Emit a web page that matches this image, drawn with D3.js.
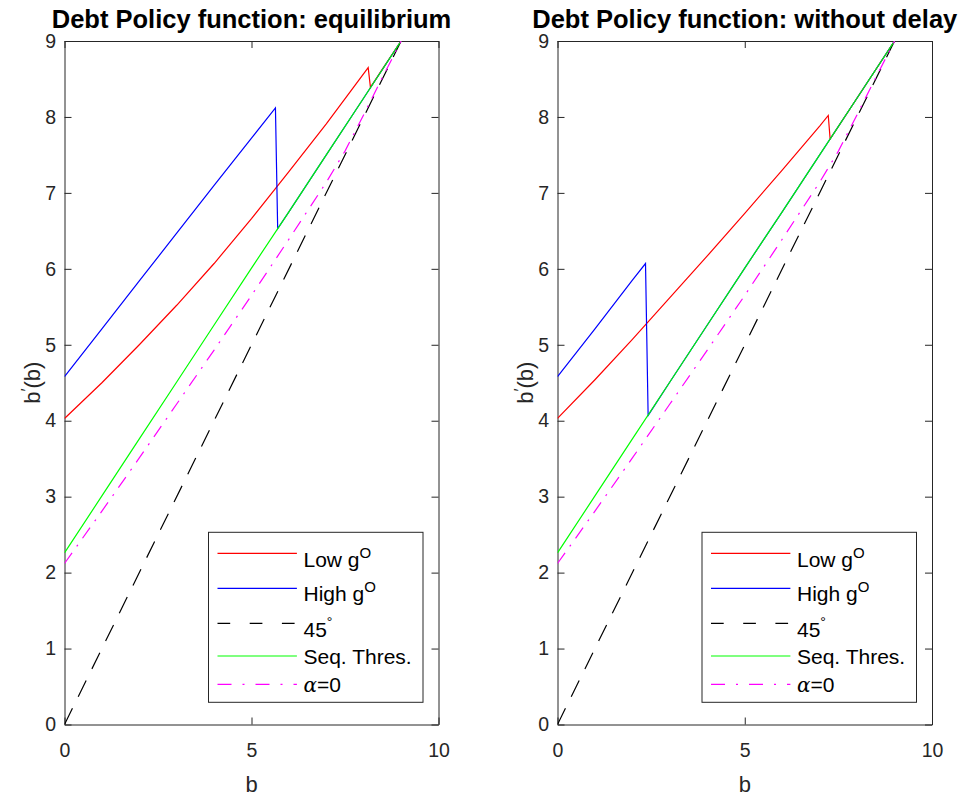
<!DOCTYPE html>
<html>
<head>
<meta charset="utf-8">
<script src="https://cdn.jsdelivr.net/npm/d3@7"></script>
<style>
  body { margin: 0; background: #fff; }
  text { font-family: "Liberation Sans", Arial, Helvetica, sans-serif; }
</style>
</head>
<body>
<div id="chart"></div>
<script>
/* DATA */

const xTicks = [0, 5, 10];
const yTicks = [0, 1, 2, 3, 4, 5, 6, 7, 8, 9];
const titles = ["Debt Policy function: equilibrium", "Debt Policy function: without delay"];

// each series is a list of [b, b'(b)]
// equilibrium panel
const eqLow = [[0, 4.03], [1, 4.50], [2, 5.00], [3, 5.52], [4, 6.07], [5, 6.66], [6, 7.28], [7, 7.91],
               [8.12, 8.65], [8.18, 8.39], [8.5, 8.63], [9, 9.0]];
const eqHigh = [[0, 4.58], [1, 5.21], [2, 5.84], [3, 6.47], [4, 7.10], [5, 7.72], [5.64, 8.12],
                [5.70, 6.53], [6, 6.75], [7, 7.50], [8, 8.25], [9, 9.0]];
// without delay panel
const ndLow = [[0, 4.03], [1, 4.54], [2, 5.07], [3, 5.62], [4, 6.17], [5, 6.73], [6, 7.30], [7, 7.88],
               [7.23, 8.02], [7.28, 7.71], [8, 8.25], [9, 9.0]];
const ndHigh = [[0, 4.58], [1, 5.21], [2, 5.85], [2.35, 6.07], [2.42, 4.07], [3, 4.51], [4, 5.26],
                [5, 6.01], [6, 6.75], [7, 7.50], [8, 8.25], [9, 9.0]];
// shared by both panels
const seqThres = [[0, 2.26], [1, 3.01], [2, 3.76], [3, 4.51], [4, 5.26], [5, 6.01], [6, 6.75],
                  [7, 7.50], [8, 8.25], [9, 9.0]];
const alphaZero = [[0, 2.12], [1, 2.81], [2, 3.51], [3, 4.22], [4, 4.93], [5, 5.65], [6, 6.39],
                   [7, 7.14], [7.5, 7.55], [8, 8.03], [8.5, 8.52], [9, 9.0]];
const line45 = [[0, 0], [9, 9]];

/* LAYOUT */

const width = 967, height = 796;
const plotTop = 41, plotBottom = 724.5;
const axisColor = "#262626";

const svg = d3.select("#chart").append("svg")
    .attr("width", width)
    .attr("height", height);

const panels = [
    { left: 64.5, right: 438.5, title: titles[0], low: eqLow, high: eqHigh },
    { left: 557.5, right: 932, title: titles[1], low: ndLow, high: ndHigh }
];

// legend rows: line y and text baseline, relative to legend top
const legendRows = [
    { lineY: 21, textY: 34.4 },
    { lineY: 56, textY: 68.4 },
    { lineY: 91, textY: 104.4 },
    { lineY: 123.7, textY: 131.7 },
    { lineY: 152, textY: 160 }
];

panels.forEach((p, k) => drawPanel(p, k));

/* FUNCTIONS */

function drawPanel(p, k) {
    const x = d3.scaleLinear().domain([0, 10]).range([p.left, p.right]);
    const y = d3.scaleLinear().domain([0, 9]).range([plotBottom, plotTop]);

    const g = svg.append("g");

    g.append("clipPath").attr("id", "clip" + k)
        .append("rect")
        .attr("x", p.left).attr("y", plotTop)
        .attr("width", p.right - p.left).attr("height", plotBottom - plotTop);

    const series = [
        { data: p.low, color: "#ff0000", dash: null, legendDash: null, label: [["Low g"], ["O", "sup"]] },
        { data: p.high, color: "#0000ff", dash: null, legendDash: null, label: [["High g"], ["O", "sup"]] },
        { data: line45, color: "#000000", dash: "18,13", legendDash: "12.7,19.5", label: [["45"], ["°", "deg"]] },
        { data: seqThres, color: "#00ff00", dash: null, legendDash: null, label: [["Seq. Thres."]] },
        { data: alphaZero, color: "#ff00ff", dash: "13,8,2,8", legendDash: "14,11,2,11", label: [["α", "greek"], ["=0"]] }
    ];

    const line = d3.line()
        .x(d => x(d[0]))
        .y(d => y(d[1]));

    // axes box with inward ticks
    const tick = 7;
    g.append("g")
        .attr("transform", `translate(0,${plotBottom})`)
        .call(d3.axisBottom(x).tickValues(xTicks).tickSizeInner(-tick).tickSizeOuter(0).tickPadding(18.5));
    g.append("g")
        .attr("transform", `translate(0,${plotTop})`)
        .call(d3.axisTop(x).tickValues(xTicks).tickSizeInner(-tick).tickSizeOuter(0).tickFormat(""));
    g.append("g")
        .attr("transform", `translate(${p.left},0)`)
        .call(d3.axisLeft(y).tickValues(yTicks).tickSizeInner(-tick).tickSizeOuter(0).tickPadding(8.5));
    g.append("g")
        .attr("transform", `translate(${p.right},0)`)
        .call(d3.axisRight(y).tickValues(yTicks).tickSizeInner(-tick).tickSizeOuter(0).tickFormat(""));

    g.selectAll(".domain, .tick line")
        .attr("stroke", axisColor)
        .attr("stroke-width", 1);
    g.selectAll(".tick text")
        .attr("fill", axisColor)
        .style("font-family", '"Liberation Sans", Arial, sans-serif')
        .style("font-size", "19.5px");

    // curves
    g.append("g")
        .attr("clip-path", `url(#clip${k})`)
        .selectAll("path")
        .data(series)
        .enter()
            .append("path")
            .attr("d", d => line(d.data))
            .attr("fill", "none")
            .attr("stroke", d => d.color)
            .attr("stroke-width", 1.2)
            .attr("stroke-dasharray", d => d.dash);

    // title
    g.append("text")
        .attr("x", (p.left + p.right) / 2)
        .attr("y", 27.5)
        .attr("text-anchor", "middle")
        .style("font-size", "25.5px")
        .style("font-weight", "bold")
        .attr("fill", "#000")
        .text(p.title);

    // x label
    g.append("text")
        .attr("x", (p.left + p.right) / 2)
        .attr("y", 791.5)
        .attr("text-anchor", "middle")
        .style("font-size", "22px")
        .attr("fill", axisColor)
        .text("b");

    // y label b'(b)
    const yl = g.append("text")
        .attr("transform", `translate(${p.left - 24.5},${(plotTop + plotBottom) / 2}) rotate(-90)`)
        .attr("text-anchor", "middle")
        .style("font-size", "22px")
        .attr("fill", axisColor);
    yl.append("tspan").text("b");
    yl.append("tspan").attr("dy", -7).style("font-size", "16px").text("′");
    yl.append("tspan").attr("dy", 7).text("(b)");

    // legend
    const lgX = p.right - 230, lgY = 532.3, lgW = 214.5, lgH = 170;
    const lg = g.append("g").attr("transform", `translate(${lgX},${lgY})`);
    lg.append("rect")
        .attr("x", 0).attr("y", 0)
        .attr("width", lgW).attr("height", lgH)
        .attr("fill", "#fff")
        .attr("stroke", axisColor)
        .attr("stroke-width", 1);

    series.forEach((s, i) => {
        const row = legendRows[i];
        lg.append("line")
            .attr("x1", 9).attr("x2", 88.4)
            .attr("y1", row.lineY).attr("y2", row.lineY)
            .attr("stroke", s.color)
            .attr("stroke-width", 1.2)
            .attr("stroke-dasharray", s.legendDash);
        const t = lg.append("text")
            .attr("x", 95)
            .attr("y", row.textY)
            .style("font-size", "21px")
            .attr("fill", "#000");
        s.label.forEach(part => {
            const ts = t.append("tspan").text(part[0]);
            if (part[1] === "sup") ts.attr("dy", -8.7).style("font-size", "15px");
            if (part[1] === "deg") ts.attr("dy", -10).style("font-size", "14px");
            if (part[1] === "greek") ts.style("font-family", '"DejaVu Serif", "Liberation Serif", serif').style("font-style", "italic").style("font-size", "20px");
        });
    });
}
</script>
</body>
</html>
